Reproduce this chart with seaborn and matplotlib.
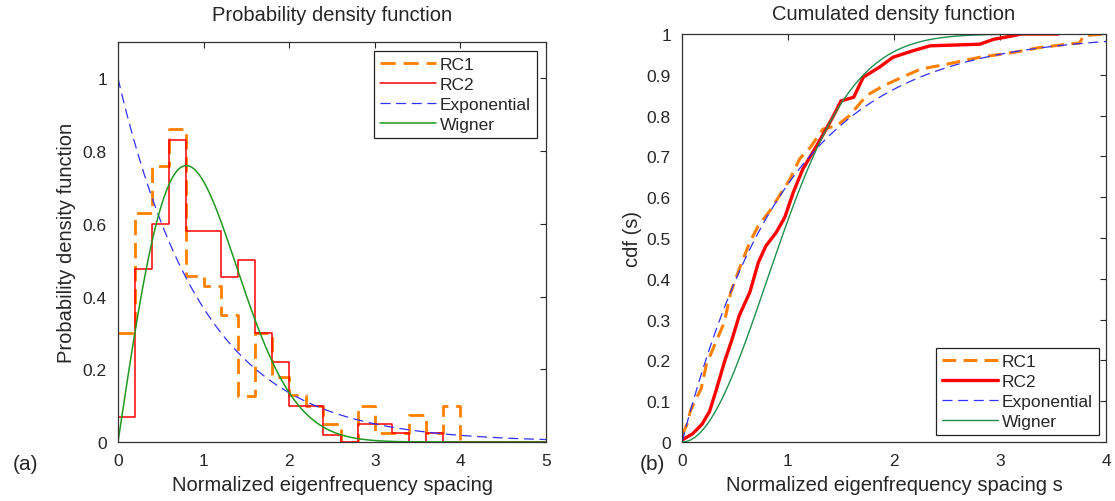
import numpy as np
import pandas as pd
import matplotlib
matplotlib.use("Agg")
import matplotlib.pyplot as plt
import seaborn as sns

# ---------------- data ----------------
bin_edges = [0.0, 0.2, 0.4, 0.6, 0.8, 1.0, 1.2, 1.4, 1.6, 1.8, 2.0, 2.2, 2.4,
             2.6, 2.8, 3.0, 3.2, 3.4, 3.6, 3.8, 4.0, 4.2, 4.4, 4.6, 4.8, 5.0]
rc1_pdf = [0.30, 0.63, 0.76, 0.86, 0.457, 0.43, 0.35, 0.127, 0.30, 0.18,
           0.13, 0.10, 0.05, 0.0, 0.10, 0.025, 0.025, 0.075, 0.025, 0.10,
           0.0, 0.0, 0.0, 0.0, 0.0]
rc2_pdf = [0.07, 0.475, 0.60, 0.83, 0.58, 0.58, 0.453, 0.50, 0.30, 0.22,
           0.10, 0.10, 0.02, 0.0, 0.05, 0.05, 0.025, 0.0, 0.025, 0.0,
           0.0, 0.0, 0.0, 0.0, 0.0]

rc1_cdf_s = [0.0, 0.05, 0.08, 0.13, 0.18, 0.23, 0.32, 0.40, 0.46, 0.54, 0.64,
             0.72, 0.83, 0.92, 1.02, 1.11, 1.21, 1.33, 1.46, 1.58, 1.74, 1.90,
             2.06, 2.25, 2.50, 2.81, 3.13, 3.38, 3.64, 3.75, 3.79, 4.0]
rc1_cdf_p = [0.015, 0.045, 0.077, 0.105, 0.13, 0.19, 0.245, 0.294, 0.367,
             0.424, 0.49, 0.53, 0.567, 0.604, 0.645, 0.694, 0.722, 0.767,
             0.775, 0.80, 0.849, 0.873, 0.892, 0.914, 0.926, 0.943, 0.955,
             0.967, 0.975, 0.978, 0.996, 1.0]
rc2_cdf_s = [0.0, 0.10, 0.19, 0.26, 0.32, 0.40, 0.47, 0.54, 0.64, 0.72, 0.79,
             0.89, 0.97, 1.05, 1.14, 1.27, 1.36, 1.43, 1.50, 1.62, 1.71, 1.87,
             1.99, 2.18, 2.34, 2.81, 2.94, 3.13, 3.20, 3.55]
rc2_cdf_p = [0.005, 0.02, 0.044, 0.075, 0.125, 0.196, 0.25, 0.31, 0.367,
             0.44, 0.48, 0.514, 0.551, 0.612, 0.669, 0.726, 0.767, 0.80,
             0.836, 0.845, 0.894, 0.92, 0.943, 0.959, 0.971, 0.975, 0.987,
             0.996, 1.0, 1.0]

# theoretical laws named in the legend
s_grid = np.linspace(0, 5, 501)
exp_pdf = np.exp(-s_grid)
wig_pdf = np.pi / 2 * s_grid * np.exp(-np.pi * s_grid ** 2 / 4)
exp_cdf = 1 - np.exp(-s_grid)
wig_cdf = 1 - np.exp(-np.pi * s_grid ** 2 / 4)

left_xticks = [0, 1, 2, 3, 4, 5]
left_yticks = [0, 0.2, 0.4, 0.6, 0.8, 1.0]
left_ytick_labels = ["0", "0.2", "0.4", "0.6", "0.8", "1"]
right_xticks = [0, 1, 2, 3, 4]
right_yticks = [0, 0.1, 0.2, 0.3, 0.4, 0.5, 0.6, 0.7, 0.8, 0.9, 1.0]
right_ytick_labels = ["0", "0.1", "0.2", "0.3", "0.4", "0.5", "0.6", "0.7",
                      "0.8", "0.9", "1"]

# ---------------- style ----------------
sns.set_style("white")
plt.rcParams["font.family"] = ["Liberation Sans", "DejaVu Sans"]
TXT = "#262626"
plt.rcParams.update({
    "text.color": TXT, "axes.labelcolor": TXT,
    "xtick.color": TXT, "ytick.color": TXT,
    "axes.edgecolor": "#333333", "axes.linewidth": 0.9,
})

ORANGE = "#ff8000"
RED = "#ff0000"
BLUE = "#3030ff"
GREEN_L = "#1f9a1f"
GREEN_R = "#1f8f4f"

fig = plt.figure(figsize=(11.15, 5.02), dpi=100)
ax1 = fig.add_axes([118 / 1115, 59 / 502, 428 / 1115, 400 / 502])
ax2 = fig.add_axes([682 / 1115, 59 / 502, 424 / 1115, 408 / 502])

# ---------------- left: pdf ----------------
stairs_x = bin_edges
rc1_y = rc1_pdf + [rc1_pdf[-1]]
rc2_y = rc2_pdf + [rc2_pdf[-1]]
sns.lineplot(x=stairs_x, y=rc1_y, ax=ax1, color=ORANGE, lw=2.0,
             linestyle=(0, (5.5, 2.8)), drawstyle="steps-post",
             estimator=None, sort=False, label="RC1")
sns.lineplot(x=stairs_x, y=rc2_y, ax=ax1, color=RED, lw=1.1,
             drawstyle="steps-post", estimator=None, sort=False, label="RC2")
sns.lineplot(x=s_grid, y=exp_pdf, ax=ax1, color=BLUE, lw=0.9,
             linestyle=(0, (8, 4.5)), estimator=None, sort=False,
             label="Exponential")
sns.lineplot(x=s_grid, y=wig_pdf, ax=ax1, color=GREEN_L, lw=1.1,
             estimator=None, sort=False, label="Wigner")

ax1.set_xlim(0, 5)
ax1.set_ylim(0, 1.1)
ax1.set_xticks(left_xticks)
ax1.set_xticklabels([str(t) for t in left_xticks])
ax1.set_yticks(left_yticks)
ax1.set_yticklabels(left_ytick_labels)
ax1.set_title("Probability density function", fontsize=14.5, pad=16)
ax1.set_xlabel("Normalized eigenfrequency spacing", fontsize=14.5, labelpad=5)
ax1.set_ylabel("Probability density function", fontsize=14.5, labelpad=5)

# ---------------- right: cdf ----------------
sns.lineplot(x=rc1_cdf_s, y=rc1_cdf_p, ax=ax2, color=ORANGE, lw=2.2,
             linestyle=(0, (4.5, 2.4)), estimator=None, sort=False,
             label="RC1")
sns.lineplot(x=rc2_cdf_s, y=rc2_cdf_p, ax=ax2, color=RED, lw=2.4,
             estimator=None, sort=False, label="RC2")
sns.lineplot(x=s_grid, y=exp_cdf, ax=ax2, color=BLUE, lw=0.9,
             linestyle=(0, (8, 4.5)), estimator=None, sort=False,
             label="Exponential")
sns.lineplot(x=s_grid, y=wig_cdf, ax=ax2, color=GREEN_R, lw=1.0,
             estimator=None, sort=False, label="Wigner")

ax2.set_xlim(0, 4)
ax2.set_ylim(0, 1)
ax2.set_xticks(right_xticks)
ax2.set_xticklabels([str(t) for t in right_xticks])
ax2.set_yticks(right_yticks)
ax2.set_yticklabels(right_ytick_labels)
ax2.set_title("Cumulated density function", fontsize=14.5, pad=11)
ax2.set_xlabel("Normalized eigenfrequency spacing s", fontsize=14.5,
               labelpad=5)
ax2.set_ylabel("cdf (s)", fontsize=14.5, labelpad=3)

for ax in (ax1, ax2):
    ax.tick_params(direction="in", length=4, width=0.8, top=True,
                   right=True, labelsize=12.5, pad=8)
    for sp in ax.spines.values():
        sp.set_visible(True)

leg_kw = dict(fontsize=12.5, frameon=True, fancybox=False, shadow=False,
              handlelength=3.2, handletextpad=0.25, labelspacing=0.28,
              borderpad=0.35, borderaxespad=0.0,
              bbox_transform=fig.transFigure)
l1 = ax1.legend(loc="upper right", bbox_to_anchor=(537 / 1115, 1 - 52 / 502),
                **leg_kw)
l2 = ax2.legend(loc="lower right", bbox_to_anchor=(1099 / 1115, 1 - 436 / 502),
                **leg_kw)
for lg in (l1, l2):
    fr = lg.get_frame()
    fr.set_edgecolor("#222222")
    fr.set_linewidth(0.9)
    fr.set_alpha(1)

fig.text(26 / 1115, 1 - 465 / 502, "(a)", fontsize=15, ha="center",
         va="center")
fig.text(652 / 1115, 1 - 465 / 502, "(b)", fontsize=15, ha="center",
         va="center")

fig.savefig("out.png", dpi=100)
